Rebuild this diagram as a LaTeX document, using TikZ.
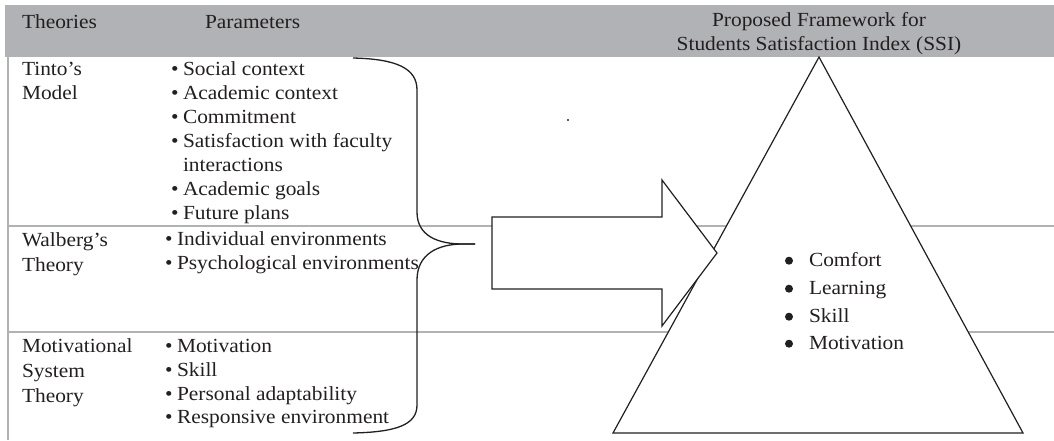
\documentclass[tikz,border=0pt]{standalone}
\usepackage{fontspec}
\usetikzlibrary{calc}
\setmainfont{Liberation Serif}[FakeStretch=1.07]
\definecolor{bandgray}{HTML}{B1B2B6}
\definecolor{ink}{HTML}{231F20}
\begin{document}
\begin{tikzpicture}[x=1pt,y=-1pt,
  every node/.style={inner sep=0pt, outer sep=0pt, text=ink,
    font=\fontsize{20}{24}\selectfont},
  lbl/.style={anchor=base west},
  ctr/.style={anchor=base},
  item/.style={anchor=base west, execute at begin node={\llap{\textbullet\hspace{4.5pt}}}},
  rule/.style={draw=bandgray, line width=2.6pt},
  outline/.style={draw=ink, line width=1.2pt, fill=white, line join=miter},
  bracepath/.style={draw=ink, line width=1.3pt},
]
\useasboundingbox (0,0) rectangle (1054,440);

% header band and table rules
\fill[bandgray] (5,5) rectangle (1054,57);
\draw[rule] (8,57) -- (8,440);
\draw[rule] (8,226) -- (1054,226);
\draw[rule] (8,332) -- (1054,332);

% header texts
\node[lbl] (hTheories) at (22,28) {Theories};
\node[lbl] (hParams) at (205,28) {Parameters};
\node[ctr] (hFrameA) at (819,26) {Proposed Framework for};
\node[ctr] (hFrameB) at (819,50) {Students Satisfaction Index (SSI)};

% Tinto's model
\node[lbl] (tintoA) at (22,75) {Tinto's};
\node[lbl] (tintoB) at (22,99) {Model};
\node[item] (t1) at (183,75) {Social context};
\node[item] (t2) at (183,99) {Academic context};
\node[item] (t3) at (183,123) {Commitment};
\node[item] (t4) at (183,147) {Satisfaction with faculty};
\node[lbl]  (t4b) at (183,171) {interactions};
\node[item] (t5) at (183,195) {Academic goals};
\node[item] (t6) at (183,219) {Future plans};

% Walberg's theory
\node[lbl] (walbA) at (22,246) {Walberg's};
\node[lbl] (walbB) at (22,271) {Theory};
\node[item] (w1) at (177,245) {Individual environments};
\node[item] (w2) at (177,269) {Psychological environments};

% Motivational system theory
\node[lbl] (motA) at (22,352) {Motivational};
\node[lbl] (motB) at (22,377) {System};
\node[lbl] (motC) at (22,402) {Theory};
\node[item] (m1) at (177,352) {Motivation};
\node[item] (m2) at (177,376) {Skill};
\node[item] (m3) at (177,400) {Personal adaptability};
\node[item] (m4) at (177,423) {Responsive environment};

% brace gathering the parameters
\coordinate (bTop) at (353,58);
\coordinate (bTip) at (475,244);
\coordinate (bBot) at (353,433);
\draw[bracepath] (bTop) .. controls (396,59) and (417,68) .. (417,90)
  -- (417,212) .. controls (417,236) and (438,244) .. (463,244) -- (bTip);
\draw[bracepath] (bTip) -- (463,244) .. controls (438,244) and (417,254) .. (417,280)
  -- (417,405) .. controls (417,425) and (396,432) .. (bBot);

% stray dot
\fill[ink] (568,120) circle (1.1);

% framework triangle
\draw[outline] (819,57) -- (1023,433) -- (613,433) -- cycle;

% block arrow into the framework
\draw[outline] (492,217) -- (662,217) -- (662,180) -- (717,253)
  -- (662,326) -- (662,289) -- (492,289) -- cycle;

% framework items
\node[lbl] (f1) at (809,266) {Comfort};
\node[lbl] (f2) at (809,294) {Learning};
\node[lbl] (f3) at (809,322) {Skill};
\node[lbl] (f4) at (809,349) {Motivation};
\foreach \n in {f1,f2,f3,f4}
  \fill[ink] ($(\n.base west)+(-20,-5.3)$) circle (4);
\end{tikzpicture}
\end{document}
